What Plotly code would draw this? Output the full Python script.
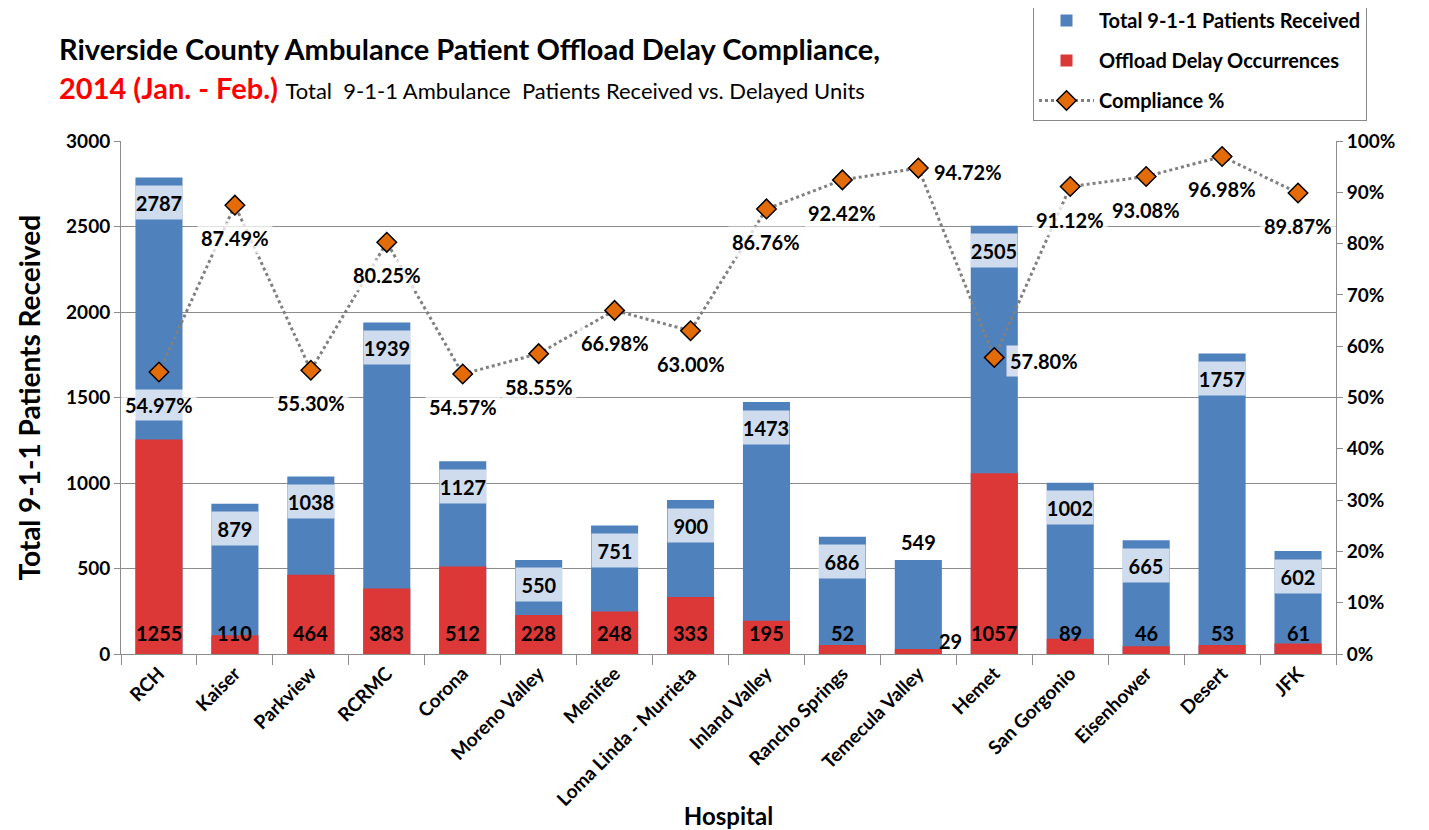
import plotly.graph_objects as go

hospitals = ["RCH", "Kaiser", "Parkview", "RCRMC", "Corona", "Moreno Valley", "Menifee",
             "Loma Linda - Murrieta", "Inland Valley", "Rancho Springs", "Temecula Valley",
             "Hemet", "San Gorgonio", "Eisenhower", "Desert", "JFK"]
total_received = [2787, 879, 1038, 1939, 1127, 550, 751, 900, 1473, 686, 549, 2505, 1002, 665, 1757, 602]
delay_occurrences = [1255, 110, 464, 383, 512, 228, 248, 333, 195, 52, 29, 1057, 89, 46, 53, 61]
compliance_pct = [54.97, 87.49, 55.30, 80.25, 54.57, 58.55, 66.98, 63.00, 86.76, 92.42,
                  94.72, 57.80, 91.12, 93.08, 96.98, 89.87]

# label placement (style only)
pct_label_pos = ["below"] * 10 + ["right", "right"] + ["below"] * 4
total_label_pos = ["inside"] * 10 + ["outside"] + ["inside"] * 5
delay_label_pos = ["base"] * 10 + ["right"] + ["base"] * 5

FONT = "Lato"
BLUE = "#4F81BD"
RED = "#DD3838"
ORANGE = "#E36C09"
GRID = "#8C8C8C"

fig = go.Figure()
fig.add_trace(go.Bar(x=hospitals, y=total_received, name="Total 9-1-1 Patients Received",
                     marker=dict(color=BLUE, line=dict(width=0)), width=0.62,
                     legendgroup="a", hoverinfo="x+y"))
fig.add_trace(go.Bar(x=hospitals, y=delay_occurrences, name="Offload Delay Occurrences",
                     marker=dict(color=RED, line=dict(width=0)), width=0.62,
                     legendgroup="b", hoverinfo="x+y"))
fig.add_trace(go.Scatter(x=hospitals, y=[v / 100 for v in compliance_pct], yaxis="y2",
                         name="Compliance %", mode="lines+markers",
                         line=dict(color="#808080", width=3, dash="dot"),
                         marker=dict(symbol="diamond", size=15, color=ORANGE,
                                     line=dict(color="black", width=1.5)),
                         legendgroup="c"))

ann = []
lab_font = dict(family=FONT, size=20, color="black", weight="bold")
for h, t, pos in zip(hospitals, total_received, total_label_pos):
    if pos == "inside":
        ann.append(dict(x=h, y=t, xref="x", yref="y", text=str(t), showarrow=False,
                        yanchor="middle", yshift=-25, font=lab_font,
                        bgcolor="rgba(255,255,255,0.72)", width=46, height=33, borderpad=0))
    else:
        ann.append(dict(x=h, y=t, xref="x", yref="y", text=str(t), showarrow=False,
                        yanchor="middle", yshift=18, font=lab_font))
for h, d, pos in zip(hospitals, delay_occurrences, delay_label_pos):
    if pos == "base":
        ann.append(dict(x=h, y=0, xref="x", yref="y", text=str(d), showarrow=False,
                        yanchor="middle", yshift=21, font=lab_font))
    else:
        ann.append(dict(x=h, y=0, xref="x", yref="y", text=str(d), showarrow=False,
                        yanchor="middle", xshift=32, yshift=13, font=lab_font))
pct_font = dict(family=FONT, size=20, color="black", weight="bold")
for h, c, pos in zip(hospitals, compliance_pct, pct_label_pos):
    if pos == "below":
        ann.append(dict(x=h, y=c / 100, xref="x", yref="y2", text=f"{c:.2f}%",
                        showarrow=False, yanchor="middle", yshift=-33, font=pct_font,
                        bgcolor="rgba(255,255,255,0.75)", borderpad=3))
    else:
        ann.append(dict(x=h, y=c / 100, xref="x", yref="y2", text=f"{c:.2f}%",
                        showarrow=False, xanchor="left", yanchor="middle", xshift=12, yshift=-4,
                        font=pct_font, bgcolor="rgba(255,255,255,0.75)", borderpad=3))

# titles
ann.append(dict(xref="paper", yref="paper", x=-0.0527, y=1.18, xanchor="left", yanchor="middle",
                showarrow=False,
                text="Riverside County Ambulance Patient Offload Delay Compliance,",
                font=dict(family=FONT, size=29, color="black", weight="bold")))
ann.append(dict(xref="paper", yref="paper", x=-0.0527, y=1.104, xanchor="left", yanchor="middle",
                showarrow=False,
                text="<b><span style='color:#FF0000'>2014 (Jan. - Feb.)</span></b> "
                     "<span style='font-size:22px'>Total  9-1-1 Ambulance  Patients Received vs. Delayed Units</span>",
                font=dict(family=FONT, size=29, color="black")))
# y-axis title
ann.append(dict(xref="paper", yref="paper", x=(28 - 121) / 1215, y=0.5, xanchor="center",
                yanchor="middle", textangle=-90, showarrow=False,
                text="Total 9-1-1 Patients Received",
                font=dict(family=FONT, size=28, color="black", weight="bold")))

# the page body has an 8px default margin; size the figure so it fits the window
fig.update_layout(
    width=1421, height=822,
    barmode="overlay",
    paper_bgcolor="white", plot_bgcolor="white",
    margin=dict(l=113, r=93, t=133, b=176, autoexpand=False),
    font=dict(family=FONT, color="black"),
    showlegend=True,
    legend=dict(x=(1033 - 121) / 1215, y=654 / 513, xanchor="left", yanchor="top",
                bordercolor="#888888", borderwidth=1, bgcolor="white",
                font=dict(family=FONT, size=20, color="black", weight="bold"),
                tracegroupgap=11, itemwidth=55, traceorder="grouped"),
    annotations=ann,
    xaxis=dict(type="category", tickson="boundaries", ticks="outside", ticklen=10,
               range=[-0.5, len(hospitals) - 0.5],
               tickcolor=GRID, showline=True, linecolor=GRID, linewidth=1,
               tickangle=-45, tickfont=dict(family=FONT, size=19, color="black", weight="bold"),
               title=dict(text="Hospital", font=dict(family=FONT, size=24, weight="bold"), standoff=8),
               showgrid=False, automargin=False),
    yaxis=dict(range=[0, 3000], dtick=500, showgrid=True, gridcolor=GRID, gridwidth=1,
               showline=True, linecolor=GRID, ticks="outside", ticklen=6, tickcolor=GRID,
               tickfont=dict(family=FONT, size=19, color="black", weight="bold"),
               zeroline=False, automargin=False),
    yaxis2=dict(range=[0, 1], dtick=0.1, tickformat=".0%", overlaying="y", side="right",
                showgrid=False, showline=True, linecolor=GRID, ticks="outside", ticklen=6,
                tickcolor=GRID, tickfont=dict(family=FONT, size=19, color="black", weight="bold"),
                zeroline=False, automargin=False),
)

fig.write_html("out.html")
